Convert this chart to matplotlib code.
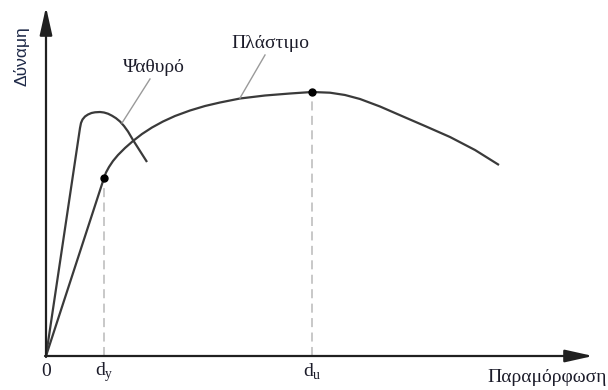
import matplotlib
matplotlib.use("Agg")
import matplotlib.pyplot as plt

# Force-deformation curves (arbitrary units, origin at 0)
brittle_x = [0, 34, 35, 36.5, 39, 42, 45.5, 49, 54, 58, 62, 66, 70, 74, 78, 82, 87, 94, 101]
brittle_y = [0, 228, 233, 236.5, 239.5, 241.5, 243, 243.7, 244, 243.5, 242.3, 240.3, 237.8, 234.5, 230, 224.5, 216, 205, 194]

ductile_x = [0, 58, 60, 63, 67, 72, 79, 87, 96, 106, 117, 129, 144, 159, 174, 194,
             219, 244, 266, 284, 299, 314, 334, 357, 379, 404, 429, 453]
ductile_y = [0, 178, 183.5, 189, 195, 201, 208, 215, 222, 228.5, 234.5, 240, 245.5, 250, 253.5, 257.5,
             260.5, 262.5, 264, 263.3, 261, 257, 249.5, 239.5, 230, 219, 206, 191]

# Yield and ultimate points on the ductile curve
d_y = (58, 178)
d_u = (266, 264)

tick_labels = ["0", "d$_\\mathregular{y}$", "d$_\\mathregular{u}$"]
tick_pos = [0, d_y[0], d_u[0]]

serif = "Liberation Serif"
text_col = "#1c1c2a"
curve_col = "#3a3a3a"

fig = plt.figure(figsize=(6.08, 3.90), dpi=100)
ax = fig.add_axes([0, 0, 1, 1])
ax.set_xlim(-46, 562)
ax.set_ylim(-34, 356)
ax.axis("off")

# Axes with arrowheads
ax.annotate("", xy=(0, 349), xytext=(0, -1),
            arrowprops=dict(arrowstyle="-|>,head_length=1.7,head_width=0.38",
                            lw=1.6, color="#202020", shrinkA=0, shrinkB=0))
ax.annotate("", xy=(547, 0), xytext=(-1, 0),
            arrowprops=dict(arrowstyle="-|>,head_length=1.7,head_width=0.38",
                            lw=1.6, color="#202020", shrinkA=0, shrinkB=0))

# Dashed guides down to the deformation axis
for px, py in (d_y, d_u):
    ax.plot([px, px], [0, py], color="#c4c4c4", lw=1.3, dashes=(5, 3), zorder=1)

# Curves
ax.plot(brittle_x, brittle_y, color=curve_col, lw=1.6, solid_capstyle="butt",
        solid_joinstyle="round", zorder=2)
ax.plot(ductile_x, ductile_y, color=curve_col, lw=1.6, solid_capstyle="butt",
        solid_joinstyle="round", zorder=2)
ax.plot([d_y[0], d_u[0]], [d_y[1], d_u[1]], "o", color="black", ms=5, zorder=3)

# Curve labels with leader lines
ax.plot([104, 76], [277, 233], color="#9a9a9a", lw=1.0)
ax.text(108, 289, "Ψαθυρό", family=serif, fontsize=14, color=text_col,
        ha="center", va="center")
ax.plot([219, 194], [301, 258], color="#9a9a9a", lw=1.0)
ax.text(224, 313, "Πλάστιμο", family=serif, fontsize=14, color=text_col,
        ha="center", va="center")

# Tick labels on the deformation axis
for lbl, xp in zip(tick_labels, tick_pos):
    ax.text(xp, -16, lbl, family=serif, fontsize=14, color=text_col,
            ha="center", va="center")

# Axis titles
ax.text(561, -22, "Παραμόρφωση", family=serif, fontsize=14, color=text_col,
        ha="right", va="center")
ax.text(-25, 300, "Δύναμη", family="Liberation Sans", fontsize=12.5, color="#1f2a48",
        rotation=90, ha="center", va="center")

fig.savefig("out.png", dpi=100, facecolor="white")
